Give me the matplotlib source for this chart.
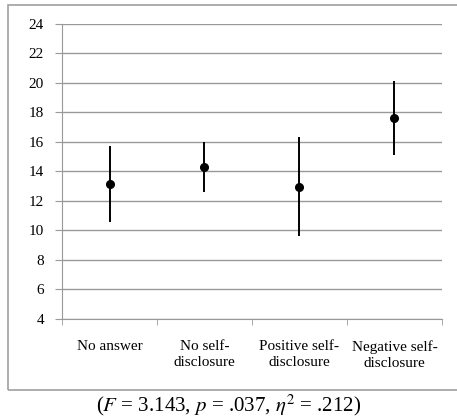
import matplotlib
matplotlib.use("Agg")
import matplotlib.pyplot as plt
from matplotlib.patches import Rectangle
import numpy as np

# data
categories = ["No answer", "No self-\ndisclosure", "Positive self-\ndisclosure", "Negative self-\ndisclosure"]
means = [13.15, 14.3, 12.97, 17.63]
upper = [15.73, 16.0, 16.36, 20.14]
lower = [10.58, 12.59, 9.63, 15.12]
yticks = [4, 6, 8, 10, 12, 14, 16, 18, 20, 22, 24]

plt.rcParams["font.family"] = ["Liberation Serif", "DejaVu Serif"]
plt.rcParams["mathtext.fontset"] = "stix"

fig = plt.figure(figsize=(4.57, 4.2), dpi=100)
ax = fig.add_axes([0.1357, 0.2405, 0.967 - 0.1357, 0.943 - 0.2405])

# outer chart border
fig.patches.append(Rectangle((0.0175, 0.0714), 1.2, 0.988 - 0.0714, transform=fig.transFigure,
                             fill=False, edgecolor="#a0a0a0", linewidth=1.2))

x = np.arange(len(categories))
m = np.array(means)
err = [m - np.array(lower), np.array(upper) - m]
ax.errorbar(x, m, yerr=err, fmt="o", color="black", ms=5.5, elinewidth=1.4, capsize=0, zorder=3)

ax.set_xlim(-0.5, len(categories) - 0.5)
ax.set_ylim(4, 24)
ax.set_yticks(yticks)
ax.set_yticklabels([str(v) for v in yticks], fontsize=11)
ax.set_xticks(x)
ax.set_xticklabels(categories, fontsize=11, linespacing=1.3)
ax.tick_params(axis="x", length=0, pad=15)
ax.set_xticks(np.arange(-0.5, len(categories), 1.0), minor=True)
ax.tick_params(axis="x", which="minor", length=4, color="#999999", direction="out")
ax.tick_params(axis="y", length=5, color="#999999", direction="out", pad=8)

ax.grid(axis="y", color="#999999", linewidth=1.0)
ax.set_axisbelow(True)
for s in ["top", "right"]:
    ax.spines[s].set_visible(False)
ax.spines["left"].set_color("#999999")
ax.spines["bottom"].set_color("#999999")

fig.text(0.5, 0.035, r"($F$ = 3.143, $p$ = .037, $\eta^2$ = .212)", ha="center", va="center", fontsize=15)

fig.savefig("out.png", dpi=100)
